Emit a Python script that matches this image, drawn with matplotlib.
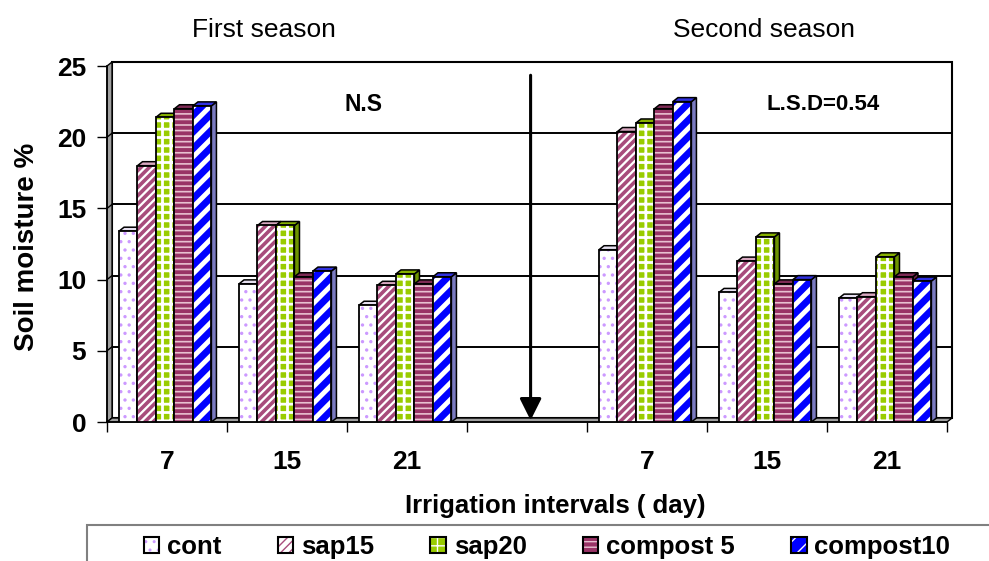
import numpy as np
import matplotlib.pyplot as plt
from matplotlib.patches import Polygon, Rectangle, Patch

plt.rcParams['font.family'] = ['Liberation Sans', 'DejaVu Sans']
plt.rcParams['font.weight'] = 'bold'

# data
categories = ['7', '15', '21', '', '7', '15', '21']
series = ['cont', 'sap15', 'sap20', 'compost 5', 'compost10']
cont      = [13.4, 9.7, 8.2, np.nan, 12.1, 9.1, 8.7]
sap15     = [18.0, 13.8, 9.6, np.nan, 20.4, 11.3, 8.8]
sap20     = [21.4, 13.8, 10.4, np.nan, 21.0, 13.0, 11.6]
compost5  = [22.0, 10.2, 9.7, np.nan, 22.0, 9.7, 10.2]
compost10 = [22.2, 10.6, 10.2, np.nan, 22.5, 10.0, 9.9]
values = [cont, sap15, sap20, compost5, compost10]

# face, hatch, hatch colour, side colour, top colour, hatch lw
styles = [
    ('white',   '..',    '#CC99FF', '#D9D9E6', '#E6E0F0', 1.2),
    ('white',   '////',  '#A84C7C', '#C98AA8', '#D8A8C0', 2.6),
    ('#99CC00', '++',    'white',   '#6E9400', '#86B000', 2.0),
    ('#993366', '---',   '#E8C0D0', '#6E2449', '#7E2B55', 1.2),
    ('#0000FF', '//',    'white',   '#7A7AC0', '#3030E0', 3.5),
]


def set_hlw(p, lw):
    # per-artist hatch width where this matplotlib supports it
    if hasattr(p, 'set_hatch_linewidth'):
        p.set_hatch_linewidth(lw)
    else:
        p._hatch_linewidth = lw


fig = plt.figure(figsize=(9.89, 5.61), dpi=100)
ax = fig.add_axes([107/989, (561-422)/561, 840/989, 356/561])
ax.set_xlim(-0.5, 6.5)
ax.set_ylim(0, 25)

dx, dy = 0.042, 0.28
w = 0.154
x = np.arange(len(categories))

# walls and floor
ax.add_patch(Rectangle((-0.5 + dx, dy), 7, 25, fc='white', ec='black', lw=1.5,
                       zorder=0, clip_on=False))
ax.add_patch(Polygon([(-0.5, 0), (-0.5 + dx, dy), (-0.5 + dx, 25 + dy), (-0.5, 25)],
                     closed=True, fc='#A0A0A0', ec='black', lw=1, zorder=1, clip_on=False))
ax.add_patch(Polygon([(-0.5, 0), (6.5, 0), (6.5 + dx, dy), (-0.5 + dx, dy)],
                     closed=True, fc='#A0A0A0', ec='black', lw=1, zorder=1, clip_on=False))
for g in range(5, 25, 5):
    ax.plot([-0.5 + dx, 6.5 + dx], [g + dy, g + dy], color='black', lw=1.4,
            zorder=0.5, clip_on=False)
    ax.plot([-0.5, -0.5 + dx], [g, g + dy], color='black', lw=1, zorder=1.5,
            clip_on=False)

for i, (vals, st) in enumerate(zip(values, styles)):
    fc, hatch, hc, sc, tc, hlw = st
    vals = np.array(vals, float)
    left = x - 0.4 + i * w
    z = 3 + i
    bars = ax.bar(left, vals, w, align='edge', color=fc, hatch=hatch, edgecolor=hc,
                  lw=0, zorder=z + 0.2)
    for p in bars:
        set_hlw(p, hlw)
    for xl, v in zip(left, vals):
        if np.isnan(v):
            continue
        side = [(xl + w, 0), (xl + w + dx, dy), (xl + w + dx, v + dy), (xl + w, v)]
        top = [(xl, v), (xl + dx, v + dy), (xl + w + dx, v + dy), (xl + w, v)]
        ax.add_patch(Polygon(side, closed=True, fc=sc, ec='black', lw=1.1,
                             zorder=z, clip_on=False))
        ax.add_patch(Polygon(top, closed=True, fc=tc, ec='black', lw=1.1,
                             zorder=z + 0.1, clip_on=False))
    ax.bar(left, vals, w, align='edge', fill=False, edgecolor='black', lw=1.3,
           zorder=z + 0.3)

# divider arrow
ax.annotate('', xy=(3.03, 0.12), xytext=(3.03, 24.35),
            arrowprops=dict(arrowstyle='-|>,head_width=0.3,head_length=0.6',
                            mutation_scale=22, lw=2.2, color='black',
                            shrinkA=0, shrinkB=0), zorder=10)

ax.text(1.64, 22.3, 'N.S', ha='center', va='center', fontsize=16.5)
ax.text(5.47, 22.3, 'L.S.D=0.54', ha='center', va='center', fontsize=16)

for s in ['top', 'right']:
    ax.spines[s].set_visible(False)
ax.spines['left'].set_linewidth(1.2)
ax.spines['bottom'].set_linewidth(1.2)
ax.spines['left'].set_zorder(2)
ax.spines['bottom'].set_zorder(2)

ax.set_yticks(range(0, 26, 5))
ax.tick_params(axis='y', length=7, width=1, pad=8, labelsize=19)
ax.set_xticks(np.arange(-0.5, 7, 1), [''] * 8)
ax.set_xticks(x, categories, minor=True)
ax.tick_params(axis='x', which='major', length=7, width=1)
ax.tick_params(axis='x', which='minor', length=0, pad=20, labelsize=19)

fig.text(264/989, 1 - 30/561, 'First season', ha='center', va='center',
         fontsize=19, fontweight='normal')
fig.text(764/989, 1 - 30/561, 'Second season', ha='center', va='center',
         fontsize=19, fontweight='normal')
fig.text(27/989, 1 - 247/561, 'Soil moisture %', rotation=90, ha='center',
         va='center', fontsize=20)
fig.text(555/989, 1 - 506/561, 'Irrigation intervals ( day)', ha='center',
         va='center', fontsize=18.5)

# legend box
fig.add_artist(Rectangle((87/989, -0.1), 1, (561-525)/561 + 0.1,
                         transform=fig.transFigure, fill=False, ec='#808080', lw=1.5))
handles = []
for fc, hatch, hc, sc, tc, hlw in styles:
    h1 = Patch(facecolor=fc, hatch=hatch, edgecolor=hc, lw=0)
    set_hlw(h1, hlw)
    h2 = Patch(fill=False, edgecolor='black', lw=1.5)
    handles.append((h1, h2))
fig.legend(handles, series, loc='center', bbox_to_anchor=(547/989, 1 - 547/561),
           ncol=5, frameon=False, fontsize=18.5, handlelength=0.6, handleheight=0.6,
           handletextpad=0.3, columnspacing=2.2)

fig.savefig('out.png', dpi=100)
